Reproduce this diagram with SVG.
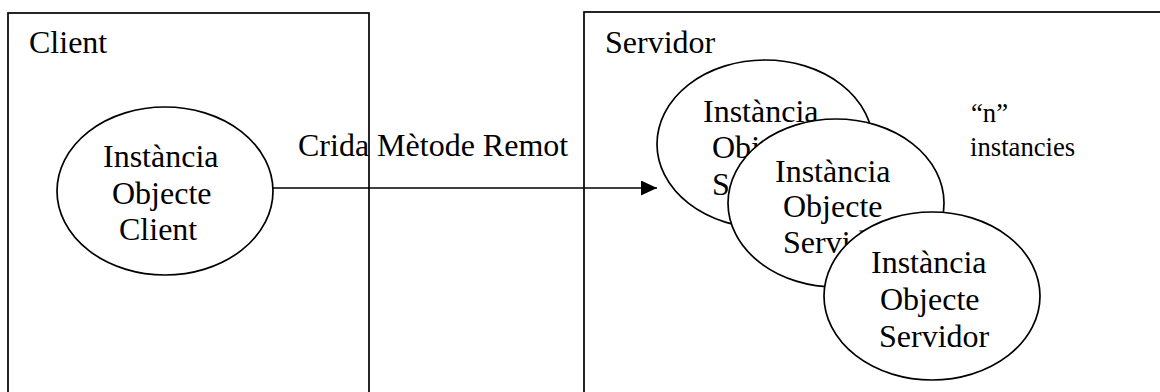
<svg xmlns="http://www.w3.org/2000/svg" width="1160" height="392" viewBox="0 0 1160 392">
  <style>
    .frame { fill: none; stroke: #000; stroke-width: 1.7; }
    .obj { fill: #fff; stroke: #000; stroke-width: 1.7; }
    .big { font-family: "Liberation Serif", "Times New Roman", serif; font-size: 32px; fill: #000; }
    .small { font-family: "Liberation Serif", "Times New Roman", serif; font-size: 26.7px; fill: #000; }
    .wire { fill: none; stroke: #000; stroke-width: 1.7; }
  </style>
  <defs>
    <marker id="head" markerUnits="userSpaceOnUse" markerWidth="16" markerHeight="15" refX="16" refY="7.5" orient="auto">
      <path d="M0,0 L16,7.5 L0,15 Z" fill="#000"/>
    </marker>
  </defs>
  <rect width="1160" height="392" fill="#fff"/>

  <!-- client side frame -->
  <g id="client-box">
    <rect class="frame" x="8" y="13" width="361" height="400"/>
    <text class="big" x="29" y="53">Client</text>
  </g>

  <!-- server side frame -->
  <g id="server-box">
    <rect class="frame" x="584" y="12" width="600" height="400"/>
    <text class="big" x="605" y="53">Servidor</text>
  </g>

  <g id="client-object">
    <ellipse class="obj" cx="165" cy="191" rx="108" ry="84"/>
    <text class="big" x="103" y="167">Instància</text>
    <text class="big" x="112" y="204">Objecte</text>
    <text class="big" x="119" y="240">Client</text>
  </g>

  <g id="server-object-1">
    <ellipse class="obj" cx="765" cy="144" rx="108" ry="84"/>
    <text class="big" x="703" y="122">Instància</text>
    <text class="big" x="712" y="158">Objecte</text>
    <text class="big" x="712" y="195">Servidor</text>
  </g>

  <g id="server-object-2">
    <ellipse class="obj" cx="836" cy="203" rx="108" ry="84"/>
    <text class="big" x="775" y="182">Instància</text>
    <text class="big" x="783" y="217">Objecte</text>
    <text class="big" x="783" y="253">Servidor</text>
  </g>

  <g id="server-object-3">
    <ellipse class="obj" cx="932" cy="296" rx="108" ry="84"/>
    <text class="big" x="871" y="273">Instància</text>
    <text class="big" x="880" y="310">Objecte</text>
    <text class="big" x="879" y="347">Servidor</text>
  </g>

  <g id="instances-note">
    <text class="small" x="971" y="122">“n”</text>
    <text class="small" x="970" y="156">instancies</text>
  </g>

  <g id="connectors">
    <line class="wire" x1="273" y1="188" x2="657" y2="188" marker-end="url(#head)"/>
    <text class="big" x="298" y="156">Crida Mètode Remot</text>
  </g>
</svg>
